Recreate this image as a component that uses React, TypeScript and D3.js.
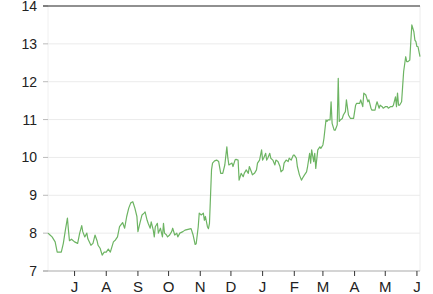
import React from "react";
import * as d3 from "d3";

const startDate = "2018-06-05";
const dayOffsets = [
  0, 2, 4, 7, 9, 13, 15, 17, 19, 20, 21, 23, 26, 29, 31, 33, 34, 36, 38, 39,
  42, 44, 46, 48, 49, 51, 53, 55, 57, 59, 61, 64, 66, 68, 70, 73, 75, 77, 79, 81,
  83, 85, 87, 88, 90, 92, 94, 95, 97, 98, 100, 101, 103, 104, 105, 107, 108, 110, 112, 113,
  114, 116, 117, 119, 121, 122, 124, 126, 127, 129, 132, 134, 137, 140, 142, 144, 145, 147, 148, 150,
  152, 153, 154, 156, 157, 158, 159, 160, 161, 163, 165, 167, 169, 171, 173, 175, 176, 177, 180, 181,
  183, 184, 186, 187, 189, 191, 192, 194, 196, 197, 199, 200, 202, 204, 205, 207, 209, 210, 211, 213,
  214, 215, 217, 218, 220, 222, 223, 225, 227, 228, 230, 231, 233, 235, 236, 238, 240, 241, 243, 244,
  246, 248, 249, 251, 253, 254, 256, 257, 258, 260, 261, 262, 264, 266, 267, 269, 270, 272, 273, 274,
  276, 277, 278, 280, 281, 283, 284, 285, 286, 288, 289, 291, 292, 294, 296, 297, 299, 301, 302, 304,
  305, 306, 308, 309, 311, 312, 313, 314, 316, 317, 319, 320, 321, 322, 324, 325, 327, 328, 330, 332,
  333, 335, 337, 338, 340, 341, 342, 343, 344, 346, 347, 348, 350, 351, 352, 354, 355, 356, 358, 359,
  360, 361, 362, 364,
];
const values = [
  8.0, 7.95, 7.9, 7.77, 7.5, 7.5, 7.73, 8.08, 8.4, 8.08, 7.8, 7.84, 7.77, 7.73, 8.0, 8.2, 8.04, 7.9, 8.0, 7.85,
  7.68, 7.73, 7.95, 7.8, 7.68, 7.6, 7.42, 7.5, 7.5, 7.58, 7.5, 7.77, 7.82, 7.9, 8.17, 8.28, 8.13, 8.44, 8.66, 8.8,
  8.83, 8.66, 8.44, 8.04, 8.27, 8.48, 8.53, 8.56, 8.34, 8.26, 8.13, 8.3, 8.08, 7.9, 8.17, 8.26, 8.0, 8.13, 7.9, 8.26,
  8.0, 7.95, 7.9, 7.95, 8.04, 8.13, 7.95, 8.0, 7.9, 8.0, 8.04, 8.08, 8.1, 8.12, 7.95, 7.7, 7.72, 8.17, 8.53, 8.48,
  8.53, 8.34, 8.44, 8.17, 8.12, 8.26, 8.96, 9.67, 9.85, 9.91, 9.93, 9.89, 9.58, 9.58, 9.8, 10.28, 9.98, 9.8, 9.85, 9.76,
  9.93, 9.95, 9.93, 9.4, 9.58, 9.49, 9.58, 9.67, 9.58, 9.76, 9.62, 9.54, 9.58, 9.67, 9.85, 9.93, 10.2, 9.93, 9.98, 10.11,
  9.93, 9.98, 10.11, 9.98, 9.93, 9.8, 9.93, 9.89, 9.76, 9.62, 9.67, 9.85, 9.93, 9.89, 9.98, 9.93, 10.06, 10.06, 9.98, 9.76,
  9.54, 9.4, 9.45, 9.54, 9.62, 9.76, 10.11, 9.85, 10.2, 9.89, 10.11, 9.71, 10.2, 10.28, 10.24, 10.33, 10.5, 10.99, 10.95, 10.99,
  10.99, 11.47, 10.9, 10.72, 10.72, 10.86, 12.09, 10.95, 10.99, 11.03, 11.12, 11.21, 11.52, 11.12, 11.03, 11.03, 11.03, 11.38, 11.43, 11.43,
  11.43, 11.52, 11.34, 11.7, 11.65, 11.56, 11.47, 11.52, 11.3, 11.25, 11.25, 11.25, 11.38, 11.47, 11.3, 11.38, 11.34, 11.3, 11.34, 11.34,
  11.3, 11.34, 11.34, 11.38, 11.6, 11.34, 11.7, 11.38, 11.38, 11.47, 11.87, 12.27, 12.66, 12.53, 12.53, 12.57, 13.06, 13.5, 13.32, 13.1,
  13.06, 12.93, 12.93, 12.66,
];
const yTicks = [7, 8, 9, 10, 11, 12, 13, 14];
const monthLabels = ["J", "A", "S", "O", "N", "D", "J", "F", "M", "A", "M", "J"];

const W = 433;
const H = 294;
const left = 48;
const right = 420;
const top = 6;
const bottom = 271;

export default function App() {
  const start = d3.timeParse("%Y-%m-%d")(startDate) as Date;
  const data = dayOffsets.map((d, i) => ({ date: d3.timeDay.offset(start, d), value: values[i] }));
  const x = d3
    .scaleTime()
    .domain(d3.extent(data, (d) => d.date) as [Date, Date])
    .range([left, right]);
  const y = d3.scaleLinear().domain([7, 14]).range([bottom, top]);
  const line = d3
    .line<{ date: Date; value: number }>()
    .x((d) => x(d.date))
    .y((d) => y(d.value))
    .curve(d3.curveLinear);
  const months = d3.timeMonth.range(d3.timeMonth.ceil(x.domain()[0]), x.domain()[1]);
  const font = "'Liberation Sans', Arial, Helvetica, sans-serif";

  return (
    <svg
      width={W}
      height={H}
      style={{ position: "absolute", left: 0, top: 0, background: "#fff" }}
    >
      {/* faint vertical borders */}
      <line x1={left} x2={left} y1={top} y2={bottom} stroke="#f0f0f0" />
      <line x1={right} x2={right} y1={top} y2={bottom} stroke="#ececec" />
      {/* horizontal grid */}
      {yTicks.map((t) => (
        <g key={t}>
          {t !== 7 && t !== 14 && (
            <line x1={left} x2={right} y1={y(t)} y2={y(t)} stroke="#ebebeb" />
          )}
          <line x1={left - 5} x2={left} y1={y(t)} y2={y(t)} stroke="#bbb" />
          <text
            x={37}
            y={y(t)}
            dy="0.36em"
            textAnchor="end"
            fontFamily={font}
            fontSize={14}
            fill="#222"
          >
            {t}
          </text>
        </g>
      ))}
      {/* top line */}
      <line x1={left - 5} x2={right} y1={y(14)} y2={y(14)} stroke="#222" strokeWidth={1.2} />
      {/* bottom axis */}
      <line x1={left - 5} x2={right} y1={bottom} y2={bottom} stroke="#aaa" strokeWidth={1.2} />
      {months.map((m, i) => (
        <g key={i}>
          <line x1={x(m)} x2={x(m)} y1={bottom} y2={bottom + 5} stroke="#333" />
          <text
            x={x(m)}
            y={292}
            textAnchor="middle"
            fontFamily={font}
            fontSize={15}
            fill="#222"
          >
            {monthLabels[i]}
          </text>
        </g>
      ))}
      <path d={line(data) || ""} fill="none" stroke="#6db463" strokeWidth={1.2} strokeLinejoin="round" />
    </svg>
  );
}
